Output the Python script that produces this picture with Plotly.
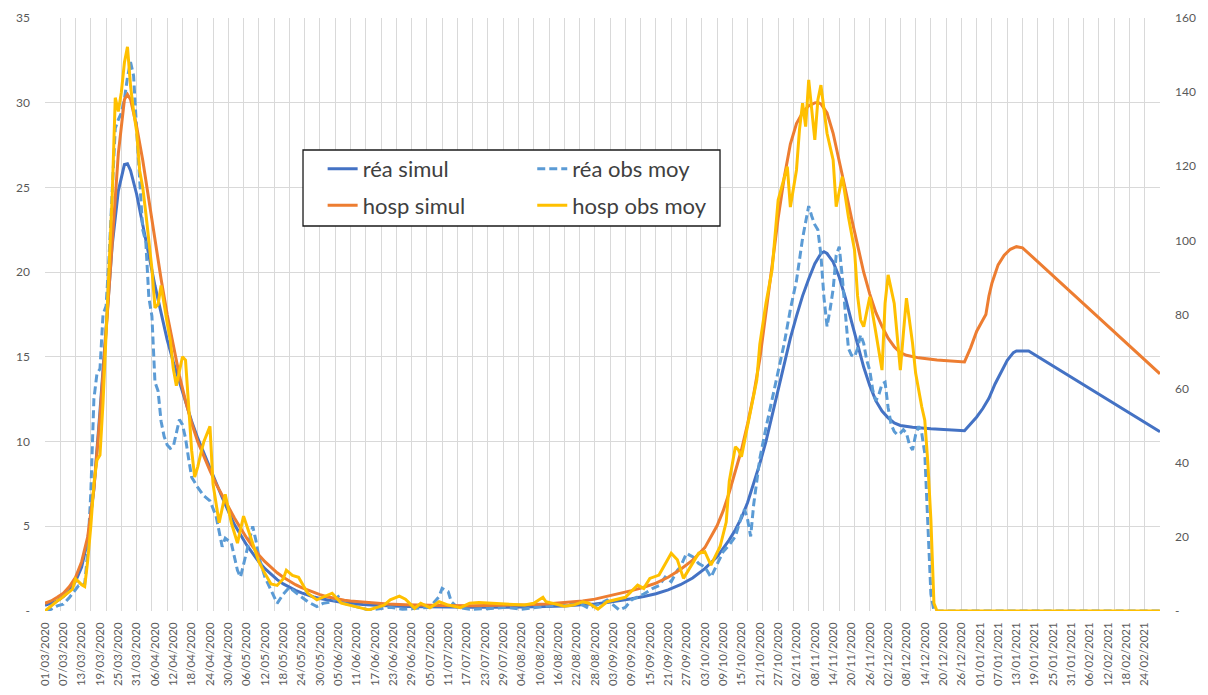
import pandas as pd
import plotly.graph_objects as go

START = pd.Timestamp("2020-03-01")
END = pd.Timestamp("2021-03-01")

# Réanimations simulées (axe gauche) : jours depuis le 01/03/2020 -> valeur
REA_SIMUL_DAY = [0, 2, 4, 6, 8, 10, 12, 14, 16, 18, 20, 22, 24, 26, 27, 28, 30, 32, 34, 36, 38, 40,
                 42, 44, 46, 48, 50, 52, 54, 56, 58, 60, 62, 64, 66, 68, 70, 72, 74, 76, 78, 80, 82, 84,
                 86, 88, 90, 92, 94, 96, 98, 100, 104, 108, 112, 118, 124, 130, 140, 150, 158, 164, 170,
                 176, 180, 184, 188, 192, 196, 200, 204, 208, 212, 216, 220, 222, 224, 226, 228, 230, 232,
                 234, 236, 238, 240, 242, 244, 246, 248, 250, 252, 254, 255, 256, 258, 260, 262, 264, 266,
                 268, 270, 272, 274, 276, 278, 280, 284, 290, 301, 303, 305, 307, 309, 311, 313, 315, 317,
                 318, 322, 365]
REA_SIMUL = [0.33, 0.45, 0.6, 0.85, 1.2, 1.75, 2.6, 4.2, 7.2, 11.8, 17.0, 21.6, 24.8, 26.35, 26.4, 26.0,
             24.6, 22.9, 21.0, 19.2, 17.5, 16.0, 14.7, 13.5, 12.3, 11.2, 10.2, 9.3, 8.4, 7.5, 6.7, 5.9, 5.1,
             4.5, 3.9, 3.4, 2.9, 2.5, 2.15, 1.85, 1.6, 1.4, 1.22, 1.07, 0.94, 0.83, 0.74, 0.66, 0.6, 0.54,
             0.49, 0.45, 0.39, 0.34, 0.3, 0.27, 0.25, 0.23, 0.22, 0.22, 0.23, 0.26, 0.3, 0.36, 0.42, 0.5,
             0.6, 0.72, 0.86, 1.02, 1.25, 1.55, 1.95, 2.5, 3.2, 3.7, 4.2, 4.8, 5.5, 6.4, 7.5, 8.7, 10.0,
             11.5, 13.0, 14.6, 16.1, 17.4, 18.6, 19.6, 20.5, 21.1, 21.2, 21.1, 20.6, 19.7, 18.5, 17.1,
             15.7, 14.4, 13.3, 12.4, 11.8, 11.4, 11.1, 10.95, 10.85, 10.75, 10.64, 11.05, 11.45, 11.95,
             12.55, 13.4, 14.15, 14.8, 15.25, 15.35, 15.35, 10.58]

# Réanimations observées, moyenne (axe gauche)
REA_OBS_DAY = [0, 2, 4, 6, 8, 10, 11, 13, 14, 15, 16, 17, 18, 19, 20, 21, 22, 23, 24, 25, 26, 27, 28, 29,
               30, 31, 32, 33, 34, 35, 36, 37, 38, 39, 40, 41, 42, 43, 44, 45, 46, 47, 48, 50, 52, 54, 56,
               58, 59, 61, 63, 64, 66, 68, 69, 70, 72, 74, 76, 78, 80, 82, 84, 86, 89, 91, 94, 96, 98, 102,
               106, 110, 113, 117, 121, 126, 129, 130, 132, 133, 135, 139, 145, 151, 156, 162, 167, 172,
               175, 178, 182, 184, 186, 188, 190, 192, 196, 199, 201, 203, 205, 207, 208, 210, 211, 212,
               214, 216, 218, 220, 222, 224, 226, 228, 229, 230, 231, 232, 234, 236, 238, 240, 242, 244,
               246, 248, 250, 251, 252, 253, 254, 255, 256, 257, 258, 259, 260, 261, 262, 263, 264, 265,
               266, 267, 268, 269, 270, 271, 272, 273, 274, 275, 276, 277, 278, 279, 280, 281, 282, 283,
               284, 285, 286, 287, 288, 289, 290, 291, 365]
REA_OBS = [0.0, 0.1, 0.3, 0.4, 0.8, 1.3, 1.5, 1.6, 3.5, 7.0, 12.5, 14.0, 14.3, 17.5, 18.0, 21.0, 24.5,
           28.5, 29.0, 29.4, 30.2, 31.5, 32.4, 31.6, 28.4, 25.1, 22.5, 21.8, 18.5, 17.4, 13.5, 13.0, 11.2,
           10.3, 9.8, 9.6, 9.7, 10.5, 11.3, 11.0, 10.2, 9.0, 7.9, 7.3, 6.8, 6.5, 5.6, 3.8, 4.3, 4.0, 2.4,
           2.0, 3.5, 5.0, 4.2, 3.2, 2.0, 1.2, 0.45, 1.0, 1.4, 1.1, 0.85, 0.55, 0.26, 0.45, 0.55, 0.85,
           0.45, 0.26, 0.06, 0.15, 0.22, 0.1, 0.16, 0.22, 0.85, 1.34, 1.14, 0.55, 0.22, 0.1, 0.14, 0.22,
           0.1, 0.22, 0.35, 0.5, 0.45, 0.16, 0.45, 0.65, 0.35, 0.06, 0.22, 0.65, 1.0, 1.34, 1.5, 2.0,
           1.73, 2.4, 2.6, 3.4, 3.3, 3.2, 2.8, 2.6, 2.0, 2.8, 3.5, 3.9, 4.4, 5.6, 6.0, 5.4, 4.4, 6.3, 9.0,
           10.8, 12.5, 14.0, 15.8, 17.8, 19.5, 22.0, 23.9, 23.3, 22.8, 22.5, 21.0, 18.5, 16.8, 17.8, 19.0,
           21.0, 21.5, 19.7, 17.5, 15.5, 15.1, 15.0, 15.5, 16.3, 15.8, 14.8, 14.2, 13.0, 12.4, 12.8, 13.4,
           13.5, 12.0, 11.0, 10.6, 10.4, 10.5, 10.7, 10.5, 9.8, 9.5, 10.4, 10.9, 10.5, 9.3, 5.4, 1.0, 0.0,
           0.0]

# Hospitalisations simulées (axe droit)
HOSP_SIMUL_DAY = [0, 2, 4, 6, 8, 10, 12, 14, 16, 18, 20, 22, 24, 26, 27, 28, 30, 32, 34, 36, 38, 40,
                  42, 44, 46, 48, 50, 52, 54, 56, 58, 60, 62, 64, 66, 68, 70, 72, 74, 76, 78, 80, 82, 84,
                  86, 88, 90, 92, 94, 96, 98, 100, 104, 108, 112, 118, 124, 130, 140, 150, 158, 164, 170,
                  176, 180, 184, 188, 192, 196, 200, 204, 208, 212, 216, 220, 222, 224, 226, 228, 230,
                  232, 234, 236, 238, 240, 242, 244, 246, 248, 250, 252, 253, 254, 256, 258, 260, 262,
                  264, 266, 268, 270, 272, 274, 276, 278, 280, 282, 286, 292, 301, 303, 305, 307, 308,
                  309, 310, 312, 314, 316, 318, 320, 365]
HOSP_SIMUL = [2.1, 2.7, 3.7, 4.8, 6.6, 9.1, 13.3, 20.1, 32.9, 52.6, 75.4, 100.6, 123.4, 138.0, 139.4,
              138.0, 130.7, 121.6, 110.6, 99.6, 89.6, 80.0, 71.3, 63.5, 56.7, 50.7, 45.7, 41.6, 37.9,
              34.3, 31.1, 27.9, 25.1, 22.4, 19.7, 17.4, 15.1, 13.3, 11.7, 10.3, 9.1, 8.0, 7.1, 6.3, 5.6,
              4.9, 4.4, 3.9, 3.5, 3.2, 2.9, 2.7, 2.4, 2.1, 1.9, 1.7, 1.55, 1.5, 1.45, 1.5, 1.7, 1.9, 2.3,
              2.7, 3.2, 3.9, 4.6, 5.5, 6.4, 7.5, 9.1, 11.2, 13.7, 17.1, 23.0, 27.0, 32.0, 37.5, 43.5,
              50.5, 58.5, 68.0, 80.0, 93.0, 106.0, 117.0, 126.0, 131.5, 134.5, 136.3, 137.1, 137.2, 136.8,
              134.4, 128.9, 121.6, 113.8, 106.0, 98.3, 91.4, 85.5, 80.5, 76.8, 73.6, 71.3, 69.7, 69.0,
              68.3, 67.7, 67.2, 71.0, 75.5, 78.5, 80.0, 85.0, 88.5, 93.4, 96.0, 97.6, 98.3, 98.0, 64.0]

# Hospitalisations observées, moyenne (axe droit)
HOSP_OBS_DAY = [0, 2, 4, 5, 7, 9, 10, 12, 13, 14, 15, 16, 17, 18, 19, 20, 21, 22, 23, 24, 25, 26, 27,
                28, 29, 30, 31, 32, 33, 34, 35, 36, 37, 38, 39, 40, 41, 42, 43, 44, 45, 46, 47, 48, 49,
                50, 51, 52, 54, 55, 57, 59, 61, 63, 65, 68, 70, 72, 74, 76, 78, 79, 81, 83, 86, 89, 94,
                97, 100, 103, 106, 111, 113, 116, 118, 121, 123, 126, 129, 132, 136, 139, 142, 146, 149,
                152, 157, 160, 163, 164, 166, 170, 173, 176, 178, 181, 184, 187, 190, 194, 196, 198, 201,
                205, 207, 209, 211, 214, 216, 218, 221, 223, 224, 226, 227, 228, 230, 233, 234, 236, 238,
                240, 243, 244, 246, 247, 248, 249, 250, 251, 252, 253, 254, 256, 258, 259, 260, 261, 263,
                265, 266, 267, 268, 270, 272, 274, 275, 276, 278, 280, 281, 282, 284, 285, 287, 288, 289,
                290, 291, 292, 365]
HOSP_OBS = [0.0, 1.4, 2.7, 3.2, 4.6, 5.9, 8.7, 7.1, 6.6, 13.7, 22.9, 34.3, 40.7, 42.1, 56.2, 74.5, 93.7,
            112.0, 138.5, 134.8, 140.0, 148.0, 152.2, 141.7, 134.8, 129.4, 118.8, 114.3, 107.4, 100.6,
            92.3, 81.8, 82.7, 87.8, 82.3, 77.7, 73.1, 65.4, 60.8, 64.9, 68.6, 67.7, 54.9, 43.4, 36.1, 38.9,
            42.5, 45.7, 49.8, 34.3, 23.8, 31.5, 23.8, 18.3, 25.6, 18.3, 13.3, 10.1, 7.3, 6.9, 8.7, 11.0,
            9.6, 9.1, 4.8, 3.0, 4.8, 2.1, 1.4, 0.9, 0.3, 1.6, 3.0, 4.0, 3.2, 0.7, 2.1, 0.9, 2.5, 1.6, 0.9,
            2.1, 2.3, 2.1, 2.1, 1.8, 1.6, 2.1, 3.7, 2.5, 2.1, 1.3, 1.6, 2.5, 2.1, 0.5, 2.5, 3.1, 3.7, 7.0,
            6.1, 8.8, 9.7, 15.6, 13.8, 8.8, 11.5, 15.6, 16.0, 12.4, 17.4, 24.0, 35.0, 44.3, 43.5, 41.6,
            50.0, 62.3, 72.0, 83.0, 92.0, 110.9, 119.9, 109.0, 119.0, 130.0, 137.0, 130.7, 143.3, 135.0,
            127.1, 137.9, 141.9, 128.9, 121.7, 109.1, 113.0, 117.2, 106.4, 97.4, 85.0, 78.5, 76.7, 84.8,
            75.0, 65.0, 83.0, 90.7, 83.0, 65.0, 75.0, 84.4, 72.2, 64.2, 55.1, 51.5, 40.0, 24.6, 2.1, 0.0,
            0.0]

# Étiquettes de l'axe des dates : une tous les 6 jours
TICK_DATES = [START + pd.Timedelta(days=6 * k) for k in range(61)]
TICK_TEXT = [d.strftime("%d/%m/%Y") for d in TICK_DATES]
LEFT_TICKS = list(range(0, 36, 5))
RIGHT_TICKS = list(range(0, 161, 20))


def dates(days):
    return [START + pd.Timedelta(days=d) for d in days]


fig = go.Figure()
fig.add_trace(go.Scatter(x=dates(REA_SIMUL_DAY), y=REA_SIMUL, name="réa simul", mode="lines",
                         line=dict(color="#4472C4", width=3), legend="legend", legendgroup="g1"))
fig.add_trace(go.Scatter(x=dates(REA_OBS_DAY), y=REA_OBS, name="réa obs moy", mode="lines",
                         line=dict(color="#5B9BD5", width=3, dash="8px,4px"),
                         legend="legend2", legendgroup="g2"))
fig.add_trace(go.Scatter(x=dates(HOSP_SIMUL_DAY), y=HOSP_SIMUL, name="hosp simul", mode="lines",
                         line=dict(color="#ED7D31", width=3), yaxis="y2",
                         legend="legend", legendgroup="g3"))
fig.add_trace(go.Scatter(x=dates(HOSP_OBS_DAY), y=HOSP_OBS, name="hosp obs moy", mode="lines",
                         line=dict(color="#FFC000", width=3), yaxis="y2",
                         legend="legend2", legendgroup="g4"))

grid = "#D9D9D9"
FONT = "Lato, 'Open Sans', sans-serif"
tick_font = dict(family=FONT, size=12, color="#595959")
date_font = dict(family=FONT, size=11.5, color="#595959")
legend_common = dict(xanchor="left", yanchor="top", bgcolor="rgba(0,0,0,0)", borderwidth=0,
                     font=dict(family=FONT, size=22, color="#404040"),
                     traceorder="grouped", tracegroupgap=5)

fig.update_layout(
    width=1208, height=695,
    margin=dict(l=45, r=48, t=18, b=84),
    paper_bgcolor="white", plot_bgcolor="white",
    font=tick_font,
    showlegend=True,
    xaxis=dict(type="date", range=[START, END], tickmode="array", tickvals=TICK_DATES,
               ticktext=TICK_TEXT, tickangle=-90, tickfont=date_font, showgrid=False,
               zeroline=False, showline=False, ticks="", ticklabelstandoff=8, automargin=False,
               minor=dict(tickmode="linear", tick0="2020-03-01", dtick=5 * 86400000,
                          showgrid=True, gridcolor=grid, gridwidth=1, ticks="")),
    yaxis=dict(range=[0, 35], tickmode="array", tickvals=LEFT_TICKS,
               ticktext=["-"] + [str(v) for v in LEFT_TICKS[1:]], showgrid=True,
               gridcolor=grid, gridwidth=1, zeroline=False, showline=False, ticks="",
               tickfont=tick_font, ticklabelstandoff=14, automargin=False),
    yaxis2=dict(overlaying="y", side="right", range=[0, 160], tickmode="array",
                tickvals=RIGHT_TICKS, ticktext=["-"] + [str(v) for v in RIGHT_TICKS[1:]],
                showgrid=False, zeroline=False, showline=False, ticks="", tickfont=tick_font,
                ticklabelstandoff=14, automargin=False),
    legend=dict(x=0.249, y=0.781, **legend_common),
    legend2=dict(x=0.437, y=0.781, **legend_common),
    shapes=[dict(type="rect", xref="paper", yref="paper", x0=0.2314, x1=0.6054,
                 y0=0.6492, y1=0.7774, fillcolor="white",
                 line=dict(color="#1a1a1a", width=1.3), layer="above")],
)

fig.write_html("out.html")
